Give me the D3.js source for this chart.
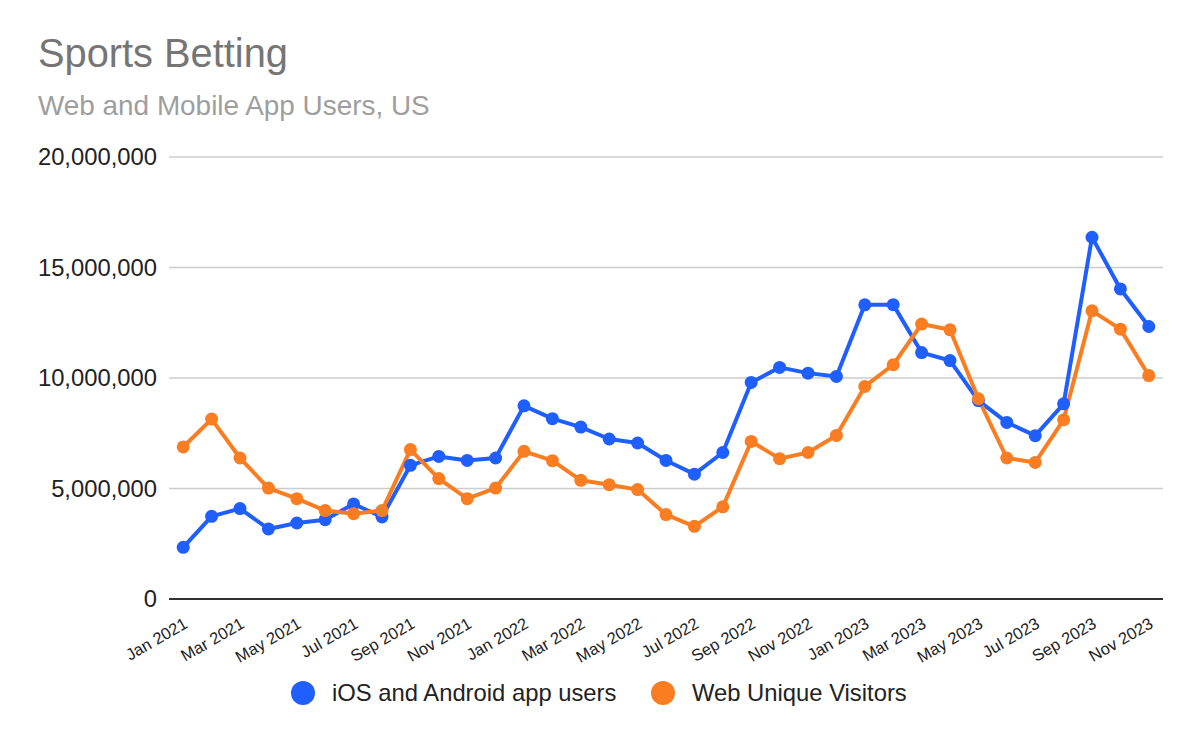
<!DOCTYPE html>
<html>
<head>
<meta charset="utf-8">
<script src="https://cdn.jsdelivr.net/npm/d3@7"></script>
<style>
  html, body { margin:0; padding:0; background:#fff; }
  svg { display:block; font-family: Arial, "Liberation Sans", sans-serif; }
</style>
</head>
<body>
<svg id="chart" width="1199" height="742"></svg>
<script>
/* ---------- data ---------- */
const MONTHS = [
  "Jan 2021","Feb 2021","Mar 2021","Apr 2021","May 2021","Jun 2021","Jul 2021","Aug 2021","Sep 2021","Oct 2021","Nov 2021","Dec 2021",
  "Jan 2022","Feb 2022","Mar 2022","Apr 2022","May 2022","Jun 2022","Jul 2022","Aug 2022","Sep 2022","Oct 2022","Nov 2022","Dec 2022",
  "Jan 2023","Feb 2023","Mar 2023","Apr 2023","May 2023","Jun 2023","Jul 2023","Aug 2023","Sep 2023","Oct 2023","Nov 2023"
];
const APP_USERS = [
  2340000, 3740000, 4090000, 3170000, 3440000, 3590000, 4300000, 3710000, 6050000, 6450000, 6270000, 6380000,
  8740000, 8160000, 7780000, 7240000, 7060000, 6270000, 5650000, 6630000, 9800000, 10480000, 10220000, 10070000,
  13310000, 13320000, 11150000, 10790000, 8980000, 7990000, 7390000, 8830000, 16370000, 14030000, 12330000
];
const WEB_VISITORS = [
  6880000, 8140000, 6380000, 5020000, 4540000, 4000000, 3860000, 4000000, 6760000, 5450000, 4540000, 5020000,
  6680000, 6260000, 5370000, 5170000, 4950000, 3820000, 3290000, 4170000, 7130000, 6350000, 6630000, 7400000,
  9620000, 10600000, 12440000, 12180000, 9060000, 6380000, 6180000, 8110000, 13040000, 12210000, 10110000
];
const SERIES_NAMES = ["iOS and Android app users", "Web Unique Visitors"];
const Y_TICKS = [0, 5000000, 10000000, 15000000, 20000000];
const X_TICKS = MONTHS.filter((m, i) => i % 2 === 0);

const TITLE = "Sports Betting";
const SUBTITLE = "Web and Mobile App Users, US";

/* ---------- layout ---------- */
const COLORS = ["#1f5eff", "#fb7d21"];
const P = { l:169, r:1163, t:157, b:599 };

const svg = d3.select("#chart");

svg.append("text").attr("x",38).attr("y",67)
  .attr("font-size",39.8).attr("fill","#757575").text(TITLE);
svg.append("text").attr("x",38).attr("y",115)
  .attr("font-size",27.9).attr("fill","#9e9e9e").text(SUBTITLE);

const x = d3.scalePoint().domain(MONTHS).range([P.l, P.r]).padding(0.5);
const y = d3.scaleLinear().domain([0, 20000000]).range([P.b, P.t]);

// gridlines
svg.append("g").selectAll("line").data(Y_TICKS.filter(d => d > 0)).join("line")
  .attr("x1",P.l).attr("x2",P.r)
  .attr("y1",d => y(d)).attr("y2",d => y(d))
  .attr("stroke","#cccccc").attr("stroke-width",1.5);

// y axis labels
const yAxis = svg.append("g").attr("transform",`translate(${P.l},0)`)
  .call(d3.axisLeft(y).tickValues(Y_TICKS).tickSize(0).tickPadding(12)
    .tickFormat(d3.format(",")));
yAxis.select(".domain").remove();
yAxis.selectAll("text").attr("font-size",23.8).attr("fill","#222")
  .attr("font-family","Arial, 'Liberation Sans', sans-serif");

// baseline
svg.append("line").attr("x1",P.l).attr("x2",P.r)
  .attr("y1",y(0)).attr("y2",y(0))
  .attr("stroke","#333").attr("stroke-width",2);

// x axis labels (slanted)
const xAxis = svg.append("g").attr("transform",`translate(0,${P.b})`)
  .call(d3.axisBottom(x).tickValues(X_TICKS).tickSize(0));
xAxis.select(".domain").remove();
xAxis.selectAll("text")
  .attr("font-size",16.5).attr("fill","#222")
  .attr("font-family","Arial, 'Liberation Sans', sans-serif")
  .attr("text-anchor","end")
  .attr("dy",null).attr("y",null)
  .attr("transform","translate(5,28) rotate(-30)");

// lines
const line = d3.line().x((d,i) => x(MONTHS[i])).y(d => y(d));
const allSeries = [APP_USERS, WEB_VISITORS];
allSeries.forEach((vals, s) => {
  svg.append("path").attr("d", line(vals))
    .attr("fill","none").attr("stroke",COLORS[s])
    .attr("stroke-width",4).attr("stroke-linejoin","round");
});
allSeries.forEach((vals, s) => {
  svg.append("g").selectAll("circle").data(vals).join("circle")
    .attr("cx",(d,i) => x(MONTHS[i])).attr("cy",d => y(d))
    .attr("r",6.5).attr("fill",COLORS[s]);
});

// legend
const legendX = [303, 663];
const legend = svg.append("g");
SERIES_NAMES.forEach((name, s) => {
  legend.append("circle").attr("cx",legendX[s]).attr("cy",693).attr("r",12).attr("fill",COLORS[s]);
  legend.append("text").attr("x",legendX[s]+29).attr("y",701)
    .attr("font-size",23.8).attr("fill","#222").text(name);
});
</script>
</body>
</html>
